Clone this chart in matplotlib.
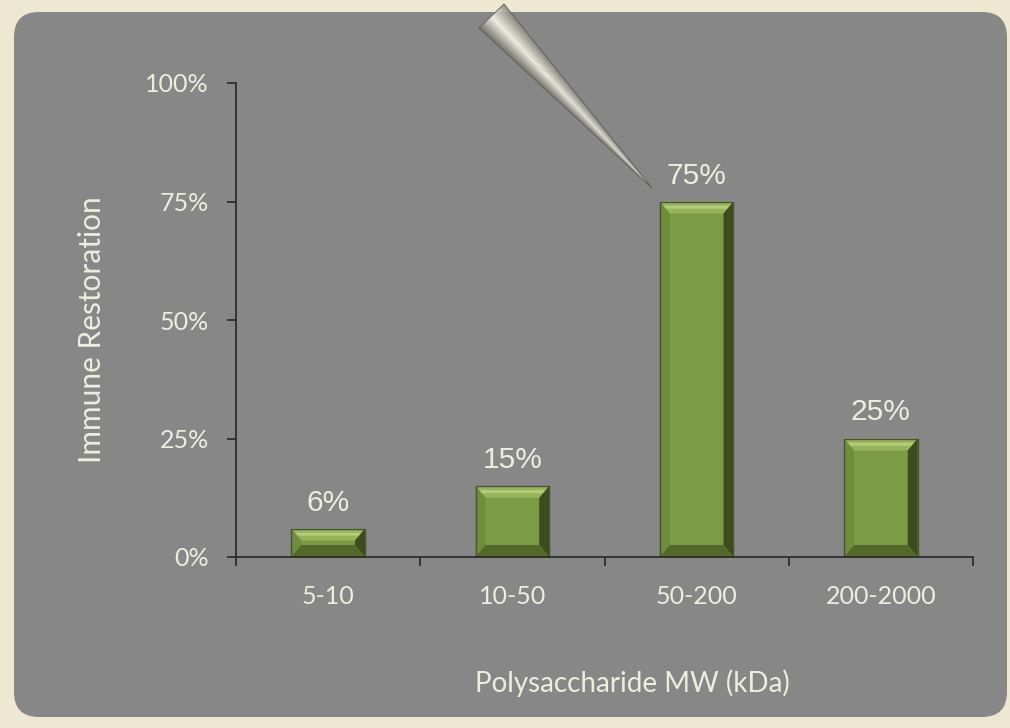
import matplotlib
matplotlib.use("Agg")
import matplotlib.pyplot as plt
from matplotlib.patches import FancyBboxPatch, Polygon, Rectangle
from matplotlib.ticker import FuncFormatter
import numpy as np

categories = ["5-10", "10-50", "50-200", "200-2000"]
values = [0.06, 0.15, 0.75, 0.25]
value_labels = ["6%", "15%", "75%", "25%"]
y_ticks = [0, 0.25, 0.5, 0.75, 1.0]

W, H = 1010, 728
cream = "#EEE8D2"
panel_gray = "#878787"
text_col = "#EEEEDF"
axis_col = "#262626"

fig = plt.figure(figsize=(W / 100, H / 100), dpi=100)
fig.patch.set_facecolor(cream)

# background layer in pixel coords
bg = fig.add_axes([0, 0, 1, 1])
bg.set_xlim(0, W)
bg.set_ylim(H, 0)
bg.axis("off")
bg.add_patch(FancyBboxPatch((14 + 25, 12 + 25), 993 - 50, 705 - 50,
                            boxstyle="round,pad=25", facecolor=panel_gray,
                            edgecolor="none"))

# chart axes
ax = fig.add_axes([236 / W, (H - 557) / H, (973 - 236) / W, (557 - 83) / H])
ax.patch.set_alpha(0)
ax.set_xlim(-0.5, 3.5)
ax.set_ylim(0, 1)
x = np.arange(len(categories))
bar_w = 0.4

# pixel -> data scale for bevel size
px_x = 4 / (973 - 236)
px_y = 1 / (557 - 83)
bev = 10
face = "#7C9B45"
for xi, v in zip(x, values):
    x0, x1 = xi - bar_w / 2, xi + bar_w / 2
    bx = bev * px_x
    by = min(12 * px_y, v / 2)
    ax.add_patch(Rectangle((x0, 0), bar_w, v, facecolor=face, edgecolor="none"))
    # top bevel (light)
    ax.add_patch(Polygon([(x0, v), (x1, v), (x1 - bx, v - by), (x0 + bx, v - by)],
                         facecolor="#98B45A", edgecolor="none"))
    ax.add_patch(Polygon([(x0 + bx * 0.35, v - by * 0.35), (x1 - bx * 0.35, v - by * 0.35),
                          (x1 - bx * 0.6, v - by * 0.6), (x0 + bx * 0.6, v - by * 0.6)],
                         facecolor="#B3CC78", edgecolor="none"))
    # left bevel
    ax.add_patch(Polygon([(x0, 0), (x0, v), (x0 + bx, v - by), (x0 + bx, by)],
                         facecolor="#6F8D3C", edgecolor="none"))
    # right bevel (dark)
    ax.add_patch(Polygon([(x1, 0), (x1, v), (x1 - bx, v - by), (x1 - bx, by)],
                         facecolor="#3C4C1E", edgecolor="none"))
    # bottom bevel
    ax.add_patch(Polygon([(x0, 0), (x1, 0), (x1 - bx, by), (x0 + bx, by)],
                         facecolor="#52692B", edgecolor="none"))
    ax.add_patch(Rectangle((x0, 0), bar_w, v, facecolor="none",
                           edgecolor="#485330", linewidth=1.0))

for xi, v, lab in zip(x, values, value_labels):
    ax.text(xi, v + 18 * px_y, lab, ha="center", va="baseline", color=text_col,
            fontsize=21.5, family="Liberation Sans")

for s in ["top", "right"]:
    ax.spines[s].set_visible(False)
for s in ["left", "bottom"]:
    ax.spines[s].set_color(axis_col)
    ax.spines[s].set_linewidth(1.2)

ax.set_yticks(y_ticks)
ax.yaxis.set_major_formatter(FuncFormatter(lambda v, p: f"{v:.0%}"))
ax.tick_params(axis="y", direction="out", length=6.5, width=1.2, color=axis_col,
               labelcolor=text_col, labelsize=18, pad=13)
ax.set_xticks(np.arange(-0.5, 3.6, 1), minor=False)
ax.set_xticklabels([])
ax.set_xticks(x, minor=True)
ax.set_xticklabels(categories, minor=True)
ax.tick_params(axis="x", which="major", direction="out", length=6.5, width=1.2,
               color=axis_col)
ax.tick_params(axis="x", which="minor", length=0, labelcolor=text_col,
               labelsize=18, pad=20)
for t in ax.get_yticklabels() + ax.get_xticklabels(minor=True):
    t.set_family("Lato")

ax.set_xlabel("Polysaccharide MW (kDa)", color=text_col, fontsize=20,
              family="Lato", va="center")
ax.xaxis.set_label_coords((632 - 236) / 737, (557 - 683) / 474)
ax.set_ylabel("Immune Restoration", color=text_col, fontsize=21.5,
              family="Lato", va="center")
ax.yaxis.set_label_coords((92 - 236) / 737, (557 - 330) / 474)

# decorative cone pointer on top
ov = fig.add_axes([0, 0, 1, 1])
ov.set_xlim(0, W)
ov.set_ylim(H, 0)
ov.axis("off")
b1 = np.array([479.0, 28.0])
b2 = np.array([504.0, 4.0])
tip = np.array([652.0, 188.0])
n = 30
shade = np.concatenate([np.linspace(0.45, 0.98, n // 2), np.linspace(0.98, 0.55, n - n // 2)])
for i in range(n):
    p0 = b1 + (b2 - b1) * i / n
    p1 = b1 + (b2 - b1) * (i + 1) / n
    g = shade[i]
    ov.add_patch(Polygon([p0, p1, tip], facecolor=(g, g, g * 0.94),
                         edgecolor="none"))
ov.add_patch(Polygon([b1, b2, tip], facecolor="none", edgecolor="#5E5E58",
                     linewidth=0.6))

fig.savefig("out.png", dpi=100, facecolor=cream)
